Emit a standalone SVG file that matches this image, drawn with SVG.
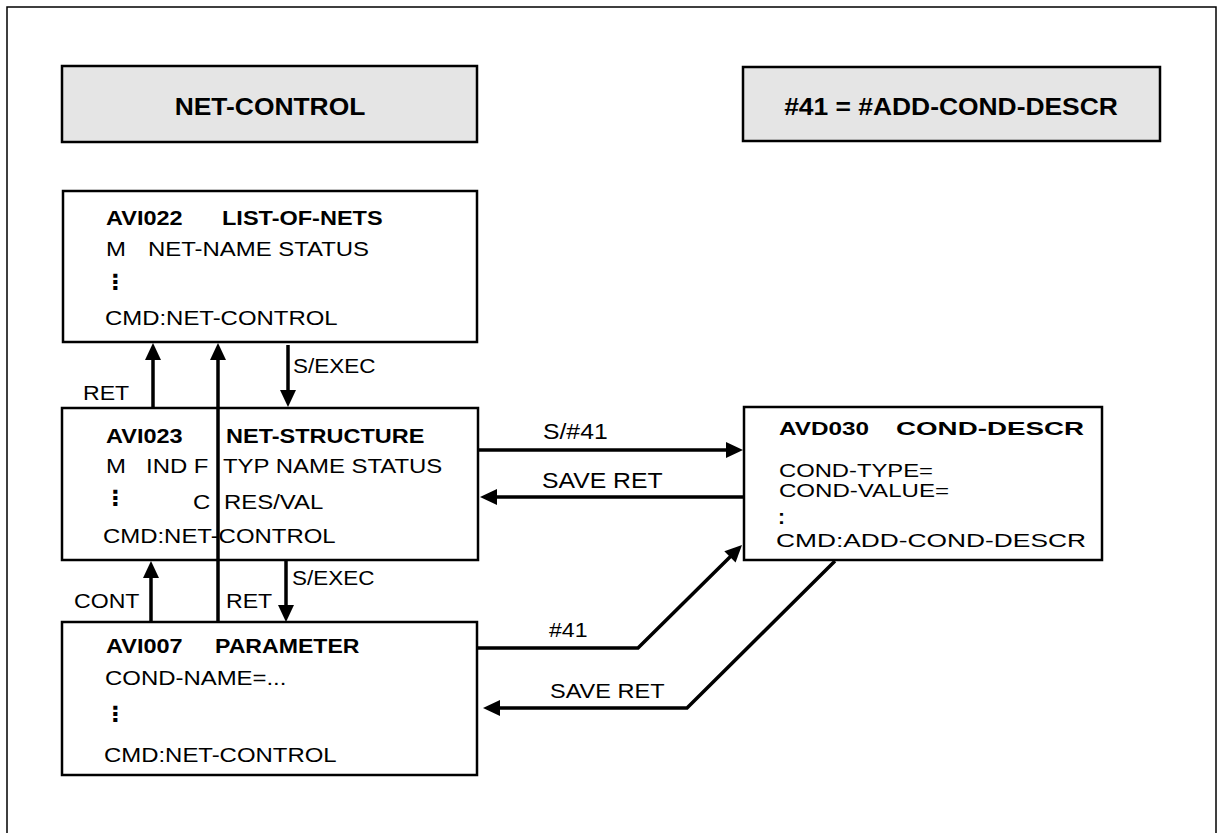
<svg xmlns="http://www.w3.org/2000/svg" width="1222" height="833" viewBox="0 0 1222 833">
  <style>
    text { font-family: "Liberation Sans", Arial, "DejaVu Sans", sans-serif; font-size: 21px; fill: #000; }
    .b { font-weight: bold; }
    .big { font-size: 22.5px; }
    .sm { font-size: 18.5px; }
    .hdr { font-weight: bold; font-size: 24px; text-anchor: middle; }
    .frame { fill: none; stroke: #000; stroke-width: 1.5; }
    .title { fill: #e5e5e5; stroke: #000; stroke-width: 2.5; }
    .node { fill: #fff; stroke: #000; stroke-width: 2.5; }
    .conn { fill: none; stroke: #000; stroke-width: 3.5; stroke-linejoin: miter; }
    .arr { marker-end: url(#head); }
  </style>
  <defs>
    <marker id="head" markerUnits="userSpaceOnUse" markerWidth="17" markerHeight="16" refX="5" refY="8" orient="auto" overflow="visible">
      <path d="M0,0 L17,8 L0,16 Z" fill="#000"/>
    </marker>
  </defs>

  <rect width="1222" height="833" fill="#fff"/>
  <!-- outer frame, open at the bottom edge of the page -->
  <rect class="frame" x="7" y="7" width="1209" height="900"/>

  <!-- title bars -->
  <g id="title-net-control">
    <rect class="title" x="62" y="66" width="415" height="76"/>
    <text class="hdr" transform="translate(270,115) scale(1.1,1)">NET-CONTROL</text>
  </g>
  <g id="title-add-cond-descr">
    <rect class="title" x="743" y="67" width="417" height="74"/>
    <text class="hdr" transform="translate(951,115) scale(1.1,1)">#41 = #ADD-COND-DESCR</text>
  </g>

  <!-- screens -->
  <g id="avi022">
    <rect class="node" x="63" y="191" width="414" height="151"/>
    <text class="b" transform="translate(106,225) scale(1.12,1)">AVI022</text>
    <text class="b" transform="translate(222,225) scale(1.12,1)">LIST-OF-NETS</text>
    <text transform="translate(106,256) scale(1.14,1)">M</text>
    <text transform="translate(148,256) scale(1.14,1)">NET-NAME STATUS</text>
    <text class="b" transform="translate(104,289) scale(1.1,1)">⋮</text>
    <text transform="translate(105,325) scale(1.14,1)">CMD:NET-CONTROL</text>
  </g>

  <g id="avi023">
    <rect class="node" x="62" y="408" width="416" height="152"/>
    <text class="b" transform="translate(106,443) scale(1.12,1)">AVI023</text>
    <text class="b" transform="translate(226,443) scale(1.12,1)">NET-STRUCTURE</text>
    <text transform="translate(106,473) scale(1.14,1)">M</text>
    <text transform="translate(146,473) scale(1.14,1)">IND F</text>
    <text transform="translate(223,473) scale(1.14,1)">TYP NAME STATUS</text>
    <text class="b" transform="translate(104,505) scale(1.1,1)">⋮</text>
    <text transform="translate(193,509) scale(1.14,1)">C</text>
    <text transform="translate(224,509) scale(1.14,1)">RES/VAL</text>
    <text transform="translate(103,543) scale(1.14,1)">CMD:NET-CONTROL</text>
  </g>

  <g id="avi007">
    <rect class="node" x="62" y="622" width="415" height="153"/>
    <text class="b" transform="translate(106,653) scale(1.12,1)">AVI007</text>
    <text class="b" transform="translate(215,653) scale(1.1,1)">PARAMETER</text>
    <text transform="translate(105,685) scale(1.14,1)">COND-NAME=...</text>
    <text class="b" transform="translate(104,721) scale(1.1,1)">⋮</text>
    <text transform="translate(104,762) scale(1.14,1)">CMD:NET-CONTROL</text>
  </g>

  <g id="avd030">
    <rect class="node" x="744" y="407" width="358" height="153"/>
    <text class="b sm" x="779" y="435" textLength="90" lengthAdjust="spacingAndGlyphs">AVD030</text>
    <text class="b sm" x="896" y="435" textLength="188" lengthAdjust="spacingAndGlyphs">COND-DESCR</text>
    <text class="sm" x="779" y="477" textLength="154" lengthAdjust="spacingAndGlyphs">COND-TYPE=</text>
    <text class="sm" x="779" y="497" textLength="170" lengthAdjust="spacingAndGlyphs">COND-VALUE=</text>
    <text class="b" x="778" y="524">:</text>
    <text class="sm" x="776" y="547" textLength="310" lengthAdjust="spacingAndGlyphs">CMD:ADD-COND-DESCR</text>
  </g>

  <!-- transitions between screens -->
  <g id="connectors">
    <path class="conn arr" d="M288,345 V395"/>
    <path class="conn arr" d="M153,408 V355"/>
    <path class="conn arr" d="M218,622 V355"/>
    <path class="conn arr" d="M286,561 V610"/>
    <path class="conn arr" d="M151,622 V573"/>
    <path class="conn arr" d="M478,450 H731"/>
    <path class="conn arr" d="M744,497 H492"/>
    <path class="conn arr" d="M477,648 H638 L733.5,553.4"/>
    <path class="conn arr" d="M835,561 L687,708 H495"/>

    <text transform="translate(83,400) scale(1.1,1)">RET</text>
    <text transform="translate(293,373) scale(1.07,1)">S/EXEC</text>
    <text transform="translate(292,585) scale(1.07,1)">S/EXEC</text>
    <text transform="translate(226,608) scale(1.1,1)">RET</text>
    <text transform="translate(74,608) scale(1.1,1)">CONT</text>
    <text class="big" transform="translate(543,439) scale(1.1,1)">S/#41</text>
    <text class="big" transform="translate(542,488) scale(1.1,1)">SAVE RET</text>
    <text transform="translate(549,637) scale(1.1,1)">#41</text>
    <text transform="translate(550,698) scale(1.12,1)">SAVE RET</text>
  </g>
</svg>
